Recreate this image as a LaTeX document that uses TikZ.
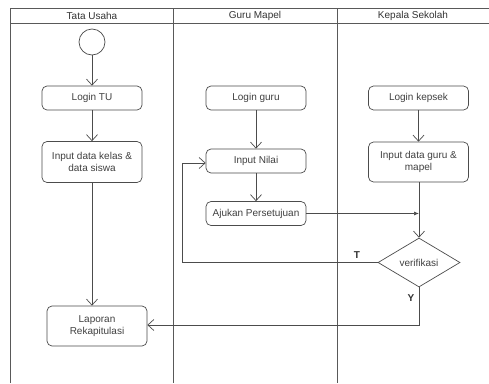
\documentclass[tikz,border=0pt]{standalone}
\usepackage{fontspec}
\setmainfont{Liberation Sans}
\usetikzlibrary{shapes.geometric,arrows.meta}
\begin{document}
\begin{tikzpicture}[x=1pt,y=-1pt,
  lane/.style={draw=gray!70!black, line width=0.8pt},
  act/.style={draw=gray!60!black, rounded corners=5pt, line width=0.7pt, minimum height=24pt, minimum width=100pt, inner sep=2pt, font=\fontsize{10}{12}\selectfont, text=black!75, align=center},
  flow/.style={draw=gray!60!black, line width=0.7pt, -{Straight Barb[length=6pt,width=11pt]}},
  lbl/.style={font=\fontsize{10}{12}\selectfont\bfseries, text=black!80}]
\useasboundingbox (0,0) rectangle (489,383);
\fill[white] (0,0) rectangle (489,383);
% swimlanes
\draw[lane] (10,383) -- (10,8) -- (492,8);
\draw[lane] (10,23) -- (492,23);
\draw[lane] (173,8) -- (173,383);
\draw[lane] (337,8) -- (337,383);
\node[font=\fontsize{10}{12}\selectfont, text=black!80] (h1) at (92,15.5) {Tata Usaha};
\node[font=\fontsize{10}{12}\selectfont, text=black!80] (h2) at (255,15.5) {Guru Mapel};
\node[font=\fontsize{10}{12}\selectfont, text=black!80] (h3) at (413,15.5) {Kepala Sekolah};
% nodes
\node[circle, draw=gray!60!black, line width=0.7pt, minimum size=26pt, inner sep=0pt] (start) at (92,42) {};
\node[act] (ltu) at (92,98) {Login TU};
\node[act, minimum height=41pt] (idk) at (92,162) {Input data kelas \&\\data siswa};
\node[act, minimum height=40pt] (lap) at (97,326) {Laporan\\Rekapitulasi};
\node[act] (lg) at (256,98) {Login guru};
\node[act] (in) at (256,161) {Input Nilai};
\node[act] (aj) at (256,213.5) {Ajukan Persetujuan};
\node[act] (lk) at (418.5,98) {Login kepsek};
\node[act, minimum height=40pt] (idg) at (418.5,162) {Input data guru \&\\mapel};
\node[diamond, draw=gray!60!black, line width=0.7pt, minimum width=82pt, minimum height=49pt, inner sep=0pt, aspect=1.67, font=\fontsize{10}{12}\selectfont, text=black!75] (ver) at (419,262.5) {verifikasi};
\coordinate (tl) at (182,262.5);
\coordinate (tu) at (182,163);
\coordinate (yb) at (419,325);
% flows
\draw[flow] (start) -- (ltu);
\draw[flow] (ltu) -- (idk);
\draw[flow] (idk.south -| 92,0) -- (lap.north -| 92,0);
\draw[flow] (lg) -- (in);
\draw[flow] (in) -- (aj);
\draw[flow] (lk) -- (idg);
\draw[flow] (idg.south -| ver.north) -- (ver.north);
\draw[draw=gray!60!black, line width=0.7pt, -{Latex[length=5pt,width=4pt]}] (aj.east) -- (aj.east -| ver.north);
\draw[flow] (ver.west) -- (tl) -- (tu) -- (in.west |- tu);
\draw[flow] (ver.south) -- (yb) -- (lap.east |- yb);
\node[lbl] (t) at (357,255) {T};
\node[lbl] (y) at (411,298) {Y};
\end{tikzpicture}
\end{document}
